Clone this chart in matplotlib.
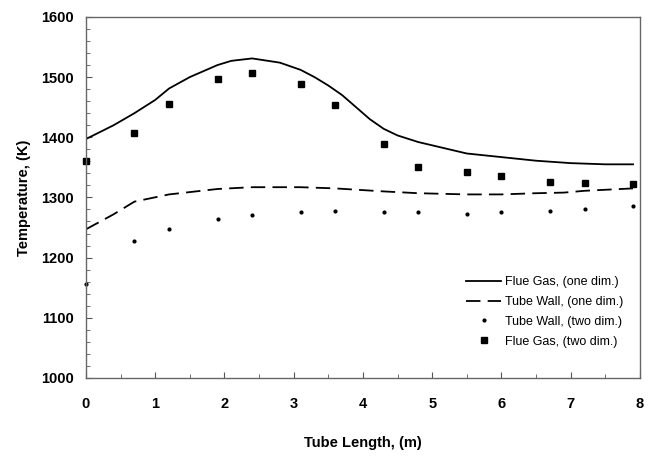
import matplotlib.pyplot as plt
from matplotlib.ticker import MultipleLocator

plt.rcParams['font.family'] = ['Liberation Sans', 'DejaVu Sans']

# Flue gas, one dim. (solid line)
x_gas1 = [0, 0.4, 0.7, 1.0, 1.2, 1.5, 1.9, 2.1, 2.4, 2.8, 3.1, 3.3, 3.5, 3.7, 3.9, 4.1, 4.3, 4.5, 4.8, 5.5, 6.0, 6.5, 7.0, 7.5, 7.9]
t_gas1 = [1397, 1420, 1440, 1462, 1481, 1500, 1520, 1527, 1531, 1524, 1512, 1500, 1486, 1470, 1450, 1430, 1414, 1403, 1392, 1373, 1367, 1361, 1357, 1355, 1355]

# Tube wall, one dim. (dashed line)
x_wall1 = [0, 0.4, 0.7, 1.2, 1.9, 2.4, 3.1, 3.6, 4.3, 4.8, 5.5, 6.0, 6.5, 6.9, 7.2, 7.9]
t_wall1 = [1247, 1272, 1293, 1305, 1314, 1317, 1317, 1315, 1310, 1307, 1305, 1305, 1307, 1308, 1311, 1315]

# two dim. points
x_pts = [0, 0.7, 1.2, 1.9, 2.4, 3.1, 3.6, 4.3, 4.8, 5.5, 6.0, 6.7, 7.2, 7.9]
t_wall2 = [1156, 1228, 1248, 1264, 1270, 1276, 1278, 1276, 1275, 1273, 1275, 1278, 1280, 1286]
t_gas2 = [1360, 1407, 1455, 1497, 1507, 1489, 1453, 1389, 1351, 1343, 1336, 1326, 1324, 1323]

fig = plt.figure(figsize=(6.51, 4.57), dpi=100)
ax = fig.add_axes([0.132, 0.173, 0.851, 0.790])

ax.plot(x_gas1, t_gas1, color='black', lw=1.3, label='Flue Gas, (one dim.)')
ax.plot(x_wall1, t_wall1, color='black', lw=1.3, linestyle=(0, (8, 4)), label='Tube Wall, (one dim.)')
ax.plot(x_pts, t_wall2, linestyle='none', marker='o', ms=2, color='black', clip_on=False,
        label='Tube Wall, (two dim.)')
ax.plot(x_pts, t_gas2, linestyle='none', marker='s', ms=4.5, color='black', clip_on=False,
        label='Flue Gas, (two dim.)')

ax.set_xlim(0, 8)
ax.set_ylim(1000, 1600)
ax.xaxis.set_major_locator(MultipleLocator(1))
ax.xaxis.set_minor_locator(MultipleLocator(0.5))
ax.yaxis.set_major_locator(MultipleLocator(100))
ax.yaxis.set_minor_locator(MultipleLocator(20))
ax.tick_params(which='both', direction='in', colors='#555555', labelcolor='black',
               labelsize=10.5, top=False, right=False)
ax.tick_params(which='major', length=4, pad=9)
ax.tick_params(which='minor', length=3)
ax.tick_params(axis='x', pad=14)
for lab in ax.get_xticklabels() + ax.get_yticklabels():
    lab.set_fontweight('bold')
for s in ax.spines.values():
    s.set_color('#666666')
    s.set_linewidth(1)

ax.set_xlabel('Tube Length, (m)', fontsize=10.5, fontweight='bold', labelpad=18)
ax.set_ylabel('Temperature, (K)', fontsize=10.5, fontweight='bold')
ax.yaxis.set_label_coords(-0.10, 0.5)

ax.legend(loc='lower right', bbox_to_anchor=(0.99, 0.053), frameon=False, fontsize=9,
          handlelength=2.8, handletextpad=0.3, labelspacing=0.62)

fig.savefig('out.png', dpi=100)
